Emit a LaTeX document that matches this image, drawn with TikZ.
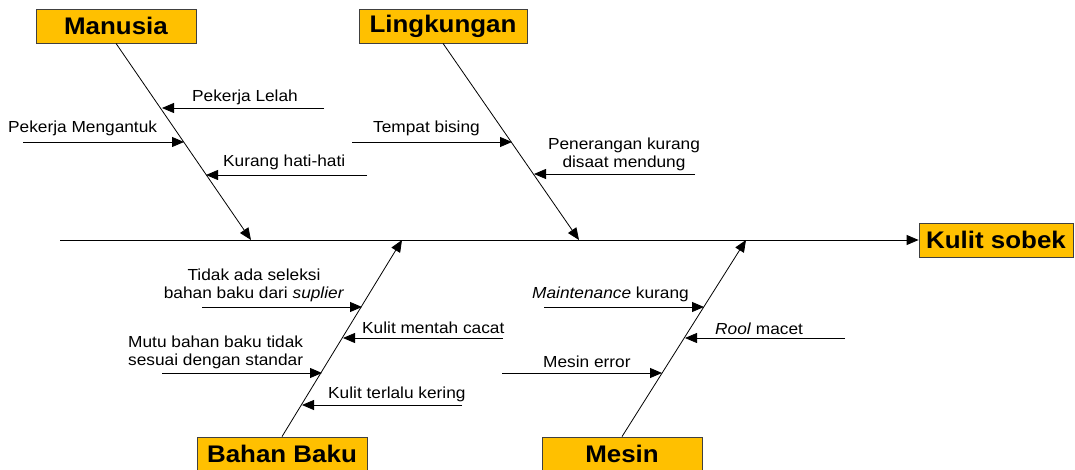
\documentclass[tikz,border=0pt]{standalone}
\usepackage{fontspec}
\setmainfont{Liberation Sans}[FakeStretch=1.08]
\usetikzlibrary{arrows.meta,calc}
\definecolor{boxfill}{HTML}{FFC000}
\definecolor{boxline}{HTML}{404040}
\begin{document}
\begin{tikzpicture}[x=1pt,y=-1pt,
  cat/.style={draw=boxline, line width=0.8pt, fill=boxfill, font=\fontsize{24}{28}\selectfont\bfseries, minimum height=34pt, inner sep=0pt},
  lbl/.style={font=\fontsize{16}{18}\selectfont, inner sep=0pt},
  bone/.style={draw=black, line width=0.8pt, -{Triangle[length=12pt,width=10pt]}}]
\useasboundingbox (0,0) rectangle (1075,470);
% category boxes
\node[cat, minimum width=160pt] (man) at (116,26) {Manusia};
\node[cat, minimum width=168pt] (ling) at (443,26) {Lingkungan};
\node[cat, minimum width=170pt] (bb) at (282,454) {Bahan Baku};
\node[cat, minimum width=160pt] (mes) at (622,454) {Mesin};
\node[cat, minimum width=154pt] (ks) at (996,240) {Kulit sobek};
% spine
\coordinate (tail) at (60,240);
\draw[bone] (tail) -- (ks.west);
% bones
\coordinate (manT) at (251,240);
\coordinate (lingT) at (579,240);
\coordinate (bbT) at (402,240);
\coordinate (mesT) at (746,240);
\draw[bone] (man.south) -- (manT);
\draw[bone] (ling.south) -- (lingT);
\draw[bone] (bb.north) -- (bbT);
\draw[bone] (mes.north) -- (mesT);
% Manusia causes
\coordinate (m1s) at (324,108); \coordinate (m1t) at (162,108);
\coordinate (m2s) at (23,142);  \coordinate (m2t) at (184,142);
\coordinate (m3s) at (367,175); \coordinate (m3t) at (206,175);
\draw[bone] (m1s) -- (m1t);
\draw[bone] (m2s) -- (m2t);
\draw[bone] (m3s) -- (m3t);
\node[lbl, anchor=base] (l1) at (245,102) {Pekerja Lelah};
\node[lbl, anchor=base west] (l2) at (8,133) {Pekerja Mengantuk};
\node[lbl, anchor=base west] (l3) at (223,167) {Kurang hati-hati};
% Lingkungan causes
\coordinate (g1s) at (352,142); \coordinate (g1t) at (512,142);
\coordinate (g2s) at (695,174); \coordinate (g2t) at (534,174);
\draw[bone] (g1s) -- (g1t);
\draw[bone] (g2s) -- (g2t);
\node[lbl, anchor=base west] (l4) at (373,133) {Tempat bising};
\node[lbl, anchor=base, align=center] (l5) at (624,168) {Penerangan kurang\\disaat mendung};
% Bahan Baku causes
\coordinate (b1s) at (202,307); \coordinate (b1t) at (362,307);
\coordinate (b2s) at (503,338); \coordinate (b2t) at (343,338);
\coordinate (b3s) at (162,373); \coordinate (b3t) at (322,373);
\coordinate (b4s) at (462,405); \coordinate (b4t) at (302,405);
\draw[bone] (b1s) -- (b1t);
\draw[bone] (b2s) -- (b2t);
\draw[bone] (b3s) -- (b3t);
\draw[bone] (b4s) -- (b4t);
\node[lbl, anchor=base, align=center] (l6) at (254,298) {Tidak ada seleksi\\bahan baku dari \textit{suplier}};
\node[lbl, anchor=base west] (l7) at (362,333) {Kulit mentah cacat};
\node[lbl, anchor=base west, align=left] (l8) at (128,365) {Mutu bahan baku tidak\\sesuai dengan standar};
\node[lbl, anchor=base west] (l9) at (328,398) {Kulit terlalu kering};
% Mesin causes
\coordinate (e1s) at (544,307); \coordinate (e1t) at (704,307);
\coordinate (e2s) at (845,338); \coordinate (e2t) at (685,338);
\coordinate (e3s) at (502,373); \coordinate (e3t) at (662,373);
\draw[bone] (e1s) -- (e1t);
\draw[bone] (e2s) -- (e2t);
\draw[bone] (e3s) -- (e3t);
\node[lbl, anchor=base west] (l10) at (532,298) {\textit{Maintenance} kurang};
\node[lbl, anchor=base west] (l11) at (715,334) {\textit{Rool} macet};
\node[lbl, anchor=base west] (l12) at (543,367) {Mesin error};
\end{tikzpicture}
\end{document}
